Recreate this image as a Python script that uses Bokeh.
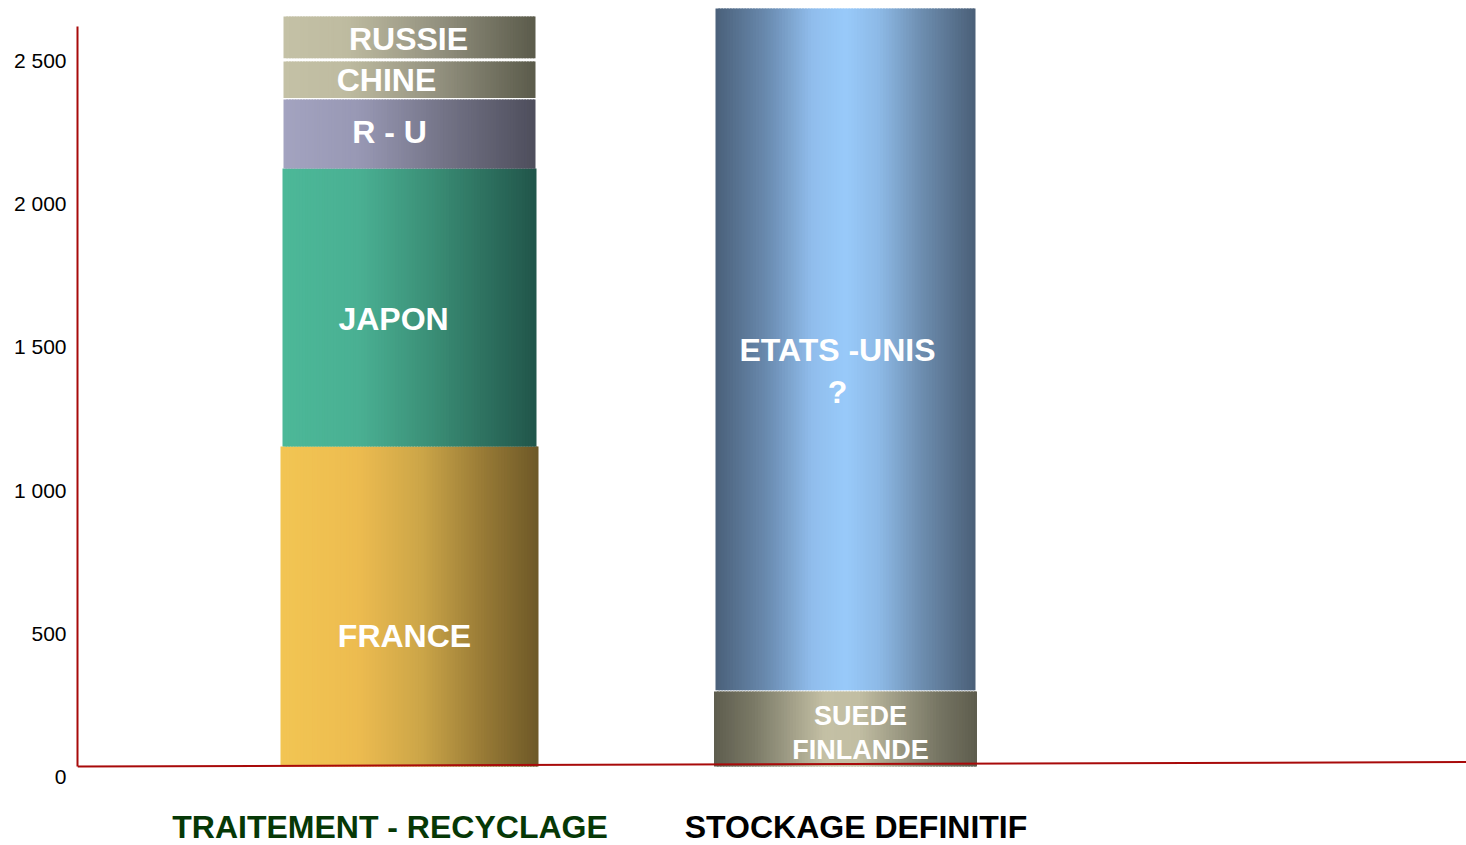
import numpy as np
from bokeh.plotting import figure
from bokeh.models import Range1d, FixedTicker, ColumnDataSource, LinearAxis
from bokeh.core.properties import value
from bokeh.embed import file_html
from bokeh.resources import INLINE

# ---------------- data ----------------
categories = ["TRAITEMENT - RECYCLAGE", "STOCKAGE DEFINITIF"]
traitement_countries = ["FRANCE", "JAPON", "R - U", "CHINE", "RUSSIE"]
traitement_values = [1117, 971, 241, 133, 157]
stockage_countries = ["SUEDE\nFINLANDE", "ETATS -UNIS\n?"]
stockage_values = [262, 2385]
y_ticks = [0, 500, 1000, 1500, 2000, 2500]
y_tick_labels = ["0", "500", "1 000", "1 500", "2 000", "2 500"]

# ---------------- styles / layout ----------------
PX_PER_UNIT = 0.2864          # vertical scale
PX_PER_CAT = 436.0            # horizontal distance between the two bars
FRAME_LEFT = 77
ZERO_PX = 766                 # page y of value 0
LABEL_SHIFT_PX = 10           # tick labels sit a little below their ticks
W, H = 1466, 845

trait_styles = [
    # stops, width px, gap px at bottom, label dx, label dy, font px
    ([(0, "#F2C553"), (0.3, "#EDBC50"), (0.55, "#CBA548"), (0.8, "#957835"), (1, "#6D5827")], 258, 0, -5, 29, 32),
    ([(0, "#4CB898"), (0.3, "#4AB093"), (0.6, "#3A8D75"), (1, "#21554A")], 254, 0, -16, 11, 32),
    ([(0, "#A3A3C0"), (0.3, "#9898B4"), (0.65, "#727285"), (1, "#4E4E5C")], 252, 0, -20, -2, 32),
    ([(0, "#C4C1A6"), (0.25, "#BEBBA0"), (0.6, "#959381"), (1, "#5B5B4B")], 252, 1.4, -23, 0, 32),
    ([(0, "#C4C1A6"), (0.25, "#BEBBA0"), (0.6, "#959381"), (1, "#5B5B4B")], 252, 3.2, -1, 0, 32),
]
stock_styles = [
    ([(0, "#5E5D4E"), (0.15, "#7A7966"), (0.42, "#C4C0A5"), (0.55, "#C2BEA3"), (0.85, "#777664"), (1, "#5D5C4D")], 263, 0, 15, 4, 27, 1.13),
    ([(0, "#4A6079"), (0.2, "#6A8BB0"), (0.37, "#90BDEC"), (0.5, "#98CAFA"), (0.63, "#8DB9E6"), (0.8, "#6C8CAD"), (1, "#4A5F78")], 260, 1.2, -8, 21, 32, 1.18),
]
cat_label_styles = [(-19.5, "#063806"), (10.5, "#000000")]
N_STRIPS = 90


def hex2rgb(h):
    h = h.lstrip("#")
    return np.array([int(h[i:i + 2], 16) for i in (0, 2, 4)], dtype=float)


def color_at(stops, t):
    for (p0, c0), (p1, c1) in zip(stops[:-1], stops[1:]):
        if p0 <= t <= p1:
            f = (t - p0) / (p1 - p0) if p1 > p0 else 0
            c = hex2rgb(c0) * (1 - f) + hex2rgb(c1) * f
            return "#%02x%02x%02x" % tuple(int(round(v)) for v in c)
    return stops[-1][1]


x_start = -(409 - FRAME_LEFT) / PX_PER_CAT
x_end = x_start + (W - FRAME_LEFT) / PX_PER_CAT
y_start = -(H - ZERO_PX) / PX_PER_UNIT
y_end = ZERO_PX / PX_PER_UNIT
shift = LABEL_SHIFT_PX / PX_PER_UNIT

p = figure(
    frame_width=W - FRAME_LEFT, frame_height=H,
    x_range=Range1d(x_start, x_end), y_range=Range1d(y_start, y_end),
    output_backend="svg", toolbar_location=None,
    x_axis_location=None, y_axis_location=None,
    min_border_left=FRAME_LEFT, min_border_right=0, min_border_top=0, min_border_bottom=0,
)
p.outline_line_color = None
p.grid.visible = False
p.background_fill_color = "white"
p.border_fill_color = "white"

# axis scale, drawn against a range offset by a few pixels so its labels sit slightly low
p.extra_y_ranges = {"labels": Range1d(y_start + shift, y_end + shift)}
ax = LinearAxis(y_range_name="labels")
ax.ticker = FixedTicker(ticks=y_ticks)
ax.major_label_overrides = {t: l for t, l in zip(y_ticks, y_tick_labels)}
ax.axis_line_color = "#A80A0A"
ax.axis_line_width = 2
ax.major_tick_line_color = None
ax.minor_tick_line_color = None
ax.major_tick_out = 0
ax.major_tick_in = 0
ax.major_label_standoff = 11
ax.major_label_text_font = "Liberation Sans"
ax.major_label_text_font_size = "21px"
ax.major_label_text_color = "black"
ax.bounds = (shift, (ZERO_PX - 26) / PX_PER_UNIT + shift)
p.add_layout(ax, "left")

strips = dict(left=[], right=[], bottom=[], top=[], color=[])
labels = dict(x=[], y=[], text=[], dx=[], dy=[], size=[], lh=[])


def add_stack(idx, names, vals, styles):
    cum = 0.0
    for name, v, st in zip(names, vals, styles):
        stops, wpx, gap, ldx, ldy, fsz = st[:6]
        lh = st[6] if len(st) > 6 else 1.2
        bottom = cum + gap / PX_PER_UNIT
        top = cum + v
        w = wpx / PX_PER_CAT
        left0 = idx - w / 2
        step = w / N_STRIPS
        for i in range(N_STRIPS):
            l = left0 + i * step
            r = l + step * (1.6 if i < N_STRIPS - 1 else 1.0)
            strips["left"].append(l)
            strips["right"].append(r)
            strips["bottom"].append(bottom)
            strips["top"].append(top)
            strips["color"].append(color_at(stops, (i + 0.5) / N_STRIPS))
        labels["x"].append(idx)
        labels["y"].append(cum + v / 2)
        labels["text"].append(name)
        labels["dx"].append(ldx)
        labels["dy"].append(ldy)
        labels["size"].append(f"{fsz}px")
        labels["lh"].append(lh)
        cum = top


add_stack(0, traitement_countries, traitement_values, trait_styles)
add_stack(1, stockage_countries, stockage_values, stock_styles)

p.quad(left="left", right="right", bottom="bottom", top="top", fill_color="color",
       line_color=None, source=ColumnDataSource(strips))

# base line (slightly tilted), drawn over the bars' feet
p.segment(x0=[x_start], y0=[0], x1=[x_end], y1=[4.5 / PX_PER_UNIT], line_color="#A80A0A", line_width=2)

src = ColumnDataSource(labels)
for lh in sorted(set(labels["lh"])):
    idxs = [i for i, v in enumerate(labels["lh"]) if v == lh]
    sub = ColumnDataSource({k: [labels[k][i] for i in idxs] for k in labels})
    p.text(x="x", y="y", text="text", x_offset="dx", y_offset="dy", text_font_size="size",
           text_font=value("Liberation Sans"), text_font_style="bold", text_color="white",
           text_align="center", text_baseline="middle", text_line_height=lh, source=sub)

cat_src = ColumnDataSource(dict(
    x=list(range(len(categories))), y=[0] * len(categories), text=categories,
    dx=[s[0] for s in cat_label_styles], color=[s[1] for s in cat_label_styles]))
p.text(x="x", y="y", text="text", x_offset="dx", y_offset=60, text_color="color",
       text_font=value("Liberation Sans"), text_font_style="bold", text_font_size="32px",
       text_align="center", text_baseline="middle", source=cat_src)

open("out.html", "w").write(file_html(p, INLINE))
